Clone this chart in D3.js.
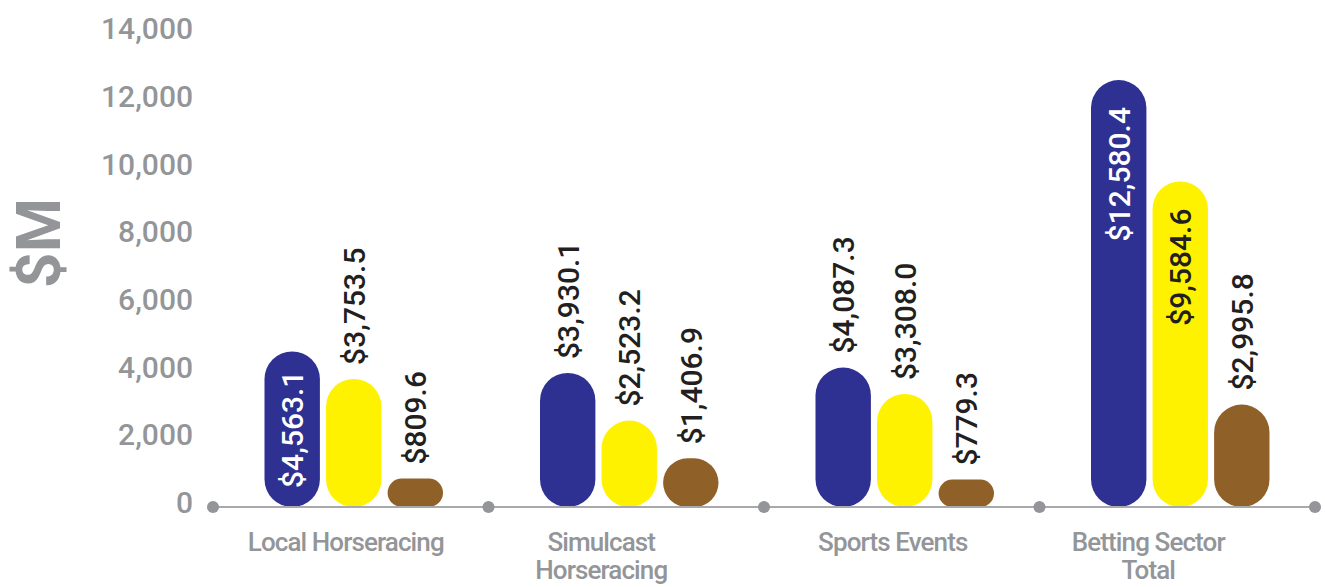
<!DOCTYPE html>
<html>
<head>
<meta charset="utf-8">
<script src="https://cdn.jsdelivr.net/npm/d3@7"></script>
<style>
  html, body { margin: 0; padding: 0; background: #ffffff; }
  svg { display: block; }
</style>
</head>
<body>
<svg id="chart" width="1325" height="587"></svg>
<script>
// Wagering by product, $M
const categories = [["Local Horseracing"], ["Simulcast", "Horseracing"], ["Sports Events"], ["Betting Sector", "Total"]];
const seriesNames = ["A", "B", "C"];
const seriesA = [4563.1, 3930.1, 4087.3, 12580.4];
const seriesB = [3753.5, 2523.2, 3308.0, 9584.6];
const seriesC = [809.6, 1406.9, 779.3, 2995.8];
const yTicks = [0, 2000, 4000, 6000, 8000, 10000, 12000, 14000];
const axisTitle = "$M";

const colors = ["#2e3192", "#fff200", "#8f6028"];
const insideText = ["#ffffff", "#231f20", "#ffffff"];
const darkText = "#231f20";
const grey = "#939598";
const font = "Roboto, 'Open Sans', sans-serif";

const svg = d3.select("#chart");

const x0 = d3.scaleBand().domain(d3.range(categories.length)).range([213, 1315]).paddingInner(0).paddingOuter(0);
const x1 = d3.scaleBand().domain(seriesNames).range([0, 178.5]).paddingInner(0.1);
const y = d3.scaleLinear().domain([0, 14000]).range([506, 32]);

// Y tick labels
const yAxis = d3.axisLeft(y).tickValues(yTicks).tickSize(0).tickPadding(0).tickFormat(d3.format(","));
const gy = svg.append("g").attr("transform", "translate(193,0)").call(yAxis);
gy.select(".domain").remove();
gy.selectAll("text")
  .attr("fill", grey)
  .attr("font-family", font)
  .attr("font-weight", 500)
  .attr("font-size", 30)
  .attr("dy", "0.22em");

// Axis title
svg.append("text")
  .attr("transform", "translate(38,243) rotate(-90)")
  .attr("text-anchor", "middle")
  .attr("dy", "0.35em")
  .attr("fill", grey)
  .attr("font-family", font)
  .attr("font-weight", 700)
  .attr("font-size", 62)
  .text(axisTitle);

const rows = [];
categories.forEach((c, i) => {
  [seriesA, seriesB, seriesC].forEach((s, j) => {
    rows.push({ cat: i, series: j, name: seriesNames[j], value: s[i] });
  });
});

const groupOffset = (x0.bandwidth() - 178.5) / 2 + 3;
const base = y(0) + 1;

// Pill bars
svg.append("g").selectAll("rect").data(rows).join("rect")
  .attr("x", d => x0(d.cat) + groupOffset + x1(d.name))
  .attr("y", d => y(d.value))
  .attr("width", x1.bandwidth())
  .attr("height", d => base - y(d.value))
  .attr("rx", d => Math.min(x1.bandwidth() / 2, (base - y(d.value)) / 2))
  .attr("ry", d => Math.min(x1.bandwidth() / 2, (base - y(d.value)) / 2))
  .attr("fill", d => colors[d.series]);

// Value labels (rotated)
const fmt = v => "$" + d3.format(",.1f")(v);
const labels = svg.append("g").selectAll("text").data(rows).join("text")
  .attr("font-family", font)
  .attr("font-weight", 500)
  .attr("font-size", 30)
  .attr("dy", "0.36em")
  .text(d => fmt(d.value));

labels.each(function (d) {
  const t = d3.select(this);
  const len = this.getComputedTextLength();
  const cx = x0(d.cat) + groupOffset + x1(d.name) + x1.bandwidth() / 2;
  const top = y(d.value);
  const h = base - top;
  if (h >= len + 30) {
    const inset = Math.min(27, (h - len) / 2);
    t.attr("text-anchor", "end")
      .attr("fill", insideText[d.series])
      .attr("transform", `translate(${cx},${top + inset}) rotate(-90)`);
  } else {
    t.attr("text-anchor", "start")
      .attr("fill", darkText)
      .attr("transform", `translate(${cx},${top - 14}) rotate(-90)`);
  }
});

// Baseline with dots at group boundaries
svg.append("line")
  .attr("x1", x0.range()[0]).attr("x2", x0.range()[1])
  .attr("y1", y(0) + 1).attr("y2", y(0) + 1)
  .attr("stroke", "#a7a9ac").attr("stroke-width", 2);

const edges = d3.range(categories.length + 1).map(i => x0.range()[0] + i * x0.step());
svg.append("g").selectAll("circle").data(edges).join("circle")
  .attr("cx", d => d).attr("cy", y(0) + 1).attr("r", 6)
  .attr("fill", grey);

// Category labels
const labelShift = [-5, -25, -9, -29];
const cat = svg.append("g").selectAll("text").data(categories).join("text")
  .attr("x", (d, i) => x0(i) + x0.bandwidth() / 2 + labelShift[i])
  .attr("y", 551)
  .attr("text-anchor", "middle")
  .attr("fill", grey)
  .attr("font-family", font)
  .attr("font-weight", 500)
  .attr("font-size", 26)
  .attr("letter-spacing", "-0.9px");
cat.selectAll("tspan").data((d, i) => d.map(s => ({ s, i }))).join("tspan")
  .attr("x", d => x0(d.i) + x0.bandwidth() / 2 + labelShift[d.i])
  .attr("dy", (d, k) => k === 0 ? 0 : 28)
  .text(d => d.s);
</script>
</body>
</html>
